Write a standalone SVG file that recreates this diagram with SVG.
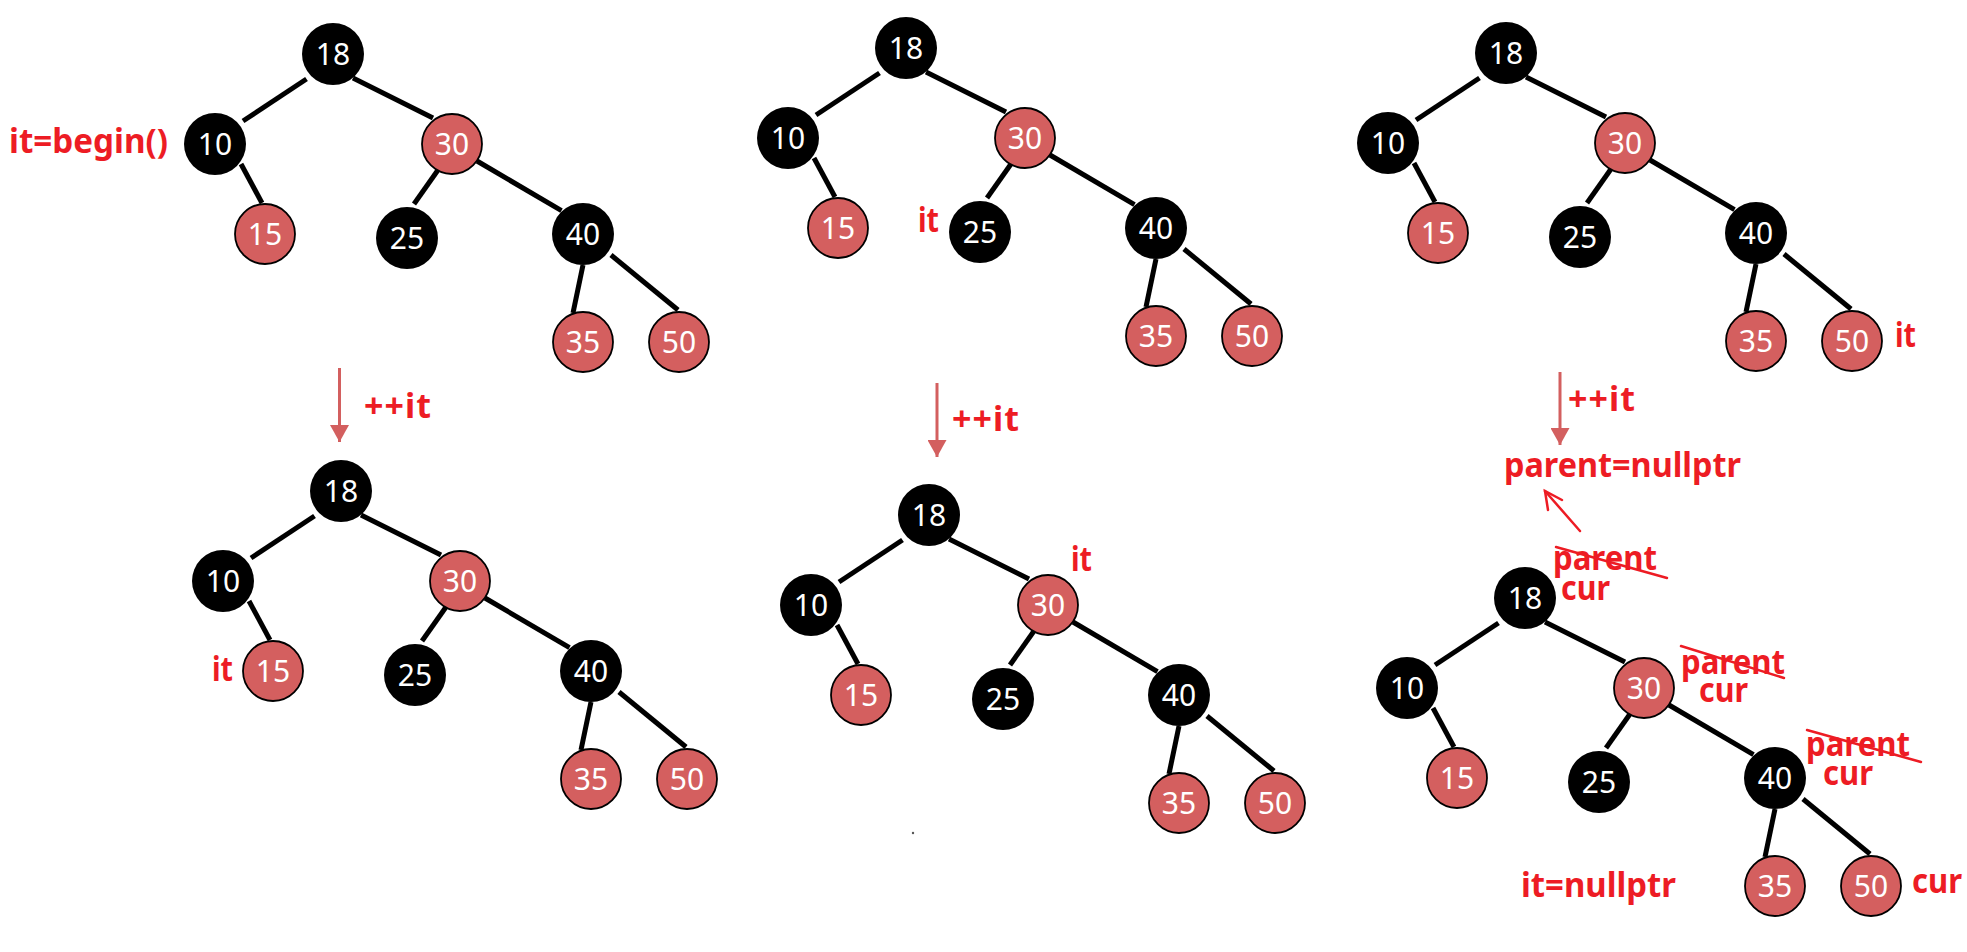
<svg xmlns="http://www.w3.org/2000/svg" xmlns:xlink="http://www.w3.org/1999/xlink" width="1967" height="952" viewBox="0 0 1967 952">
<style>
.b{fill:#000000}
.r{fill:#D45F5F;stroke:#000;stroke-width:1.8}
.v{fill:#fff;font-family:"Noto Sans","Liberation Sans",sans-serif;font-size:30px;text-anchor:middle}
.e{stroke:#000;stroke-width:5;fill:none}
.lab{fill:#ED1C24;font-family:"Noto Sans","Liberation Sans",sans-serif;font-size:34px;font-weight:bold}
.step{stroke:#D35F5F;stroke-width:3;fill:none}
.mark{stroke:#ED1C24;stroke-width:2.5;fill:none;stroke-linecap:round}
</style>
<defs>
<marker id="ah" markerWidth="19" markerHeight="19" refX="17" refY="9.5" orient="auto" markerUnits="userSpaceOnUse"><path d="M0,0 L17,9.5 L0,19 z" fill="#D35F5F"/></marker>
<g id="edgeSet">
<line class="e" x1="-26.5" y1="25" x2="-90" y2="67"/>
<line class="e" x1="20" y1="24" x2="100" y2="64"/>
<line class="e" x1="-92" y1="110" x2="-71" y2="149"/>
<line class="e" x1="105" y1="116" x2="81" y2="150"/>
<line class="e" x1="144" y1="107" x2="228.5" y2="156.7"/>
<line class="e" x1="250" y1="211" x2="240" y2="259"/>
<line class="e" x1="278" y1="201" x2="345" y2="256"/>
</g>
</defs>
<rect width="1967" height="952" fill="#fff"/>
<g id="connectors">
<use xlink:href="#edgeSet" transform="translate(333,54)"/>
<use xlink:href="#edgeSet" transform="translate(906,48)"/>
<use xlink:href="#edgeSet" transform="translate(1506,53)"/>
<use xlink:href="#edgeSet" transform="translate(341,491)"/>
<use xlink:href="#edgeSet" transform="translate(929,515)"/>
<use xlink:href="#edgeSet" transform="translate(1525,598)"/>
<line class="step" x1="339.5" y1="368" x2="339.5" y2="442" marker-end="url(#ah)"/>
<line class="step" x1="937" y1="383" x2="937" y2="457" marker-end="url(#ah)"/>
<line class="step" x1="1560" y1="372" x2="1560" y2="445" marker-end="url(#ah)"/>
<line class="mark" x1="1580" y1="531" x2="1545" y2="491"/>
<polyline class="mark" points="1562,500 1545,491 1548,510"/>
</g>
<g id="tree1" transform="translate(333,54)">
<g id="t1-18"><circle class="b" cx="0" cy="0" r="31"/><text class="v" x="0" y="11">18</text></g>
<g id="t1-10"><circle class="b" cx="-118" cy="90" r="31"/><text class="v" x="-118" y="101">10</text></g>
<g id="t1-30"><circle class="r" cx="119" cy="90" r="30"/><text class="v" x="119" y="101">30</text></g>
<g id="t1-15"><circle class="r" cx="-68" cy="180" r="30"/><text class="v" x="-68" y="191">15</text></g>
<g id="t1-25"><circle class="b" cx="74" cy="184" r="31"/><text class="v" x="74" y="195">25</text></g>
<g id="t1-40"><circle class="b" cx="250" cy="180" r="31"/><text class="v" x="250" y="191">40</text></g>
<g id="t1-35"><circle class="r" cx="250" cy="288" r="30"/><text class="v" x="250" y="299">35</text></g>
<g id="t1-50"><circle class="r" cx="346" cy="288" r="30"/><text class="v" x="346" y="299">50</text></g>
</g>
<g id="tree2" transform="translate(906,48)">
<g id="t2-18"><circle class="b" cx="0" cy="0" r="31"/><text class="v" x="0" y="11">18</text></g>
<g id="t2-10"><circle class="b" cx="-118" cy="90" r="31"/><text class="v" x="-118" y="101">10</text></g>
<g id="t2-30"><circle class="r" cx="119" cy="90" r="30"/><text class="v" x="119" y="101">30</text></g>
<g id="t2-15"><circle class="r" cx="-68" cy="180" r="30"/><text class="v" x="-68" y="191">15</text></g>
<g id="t2-25"><circle class="b" cx="74" cy="184" r="31"/><text class="v" x="74" y="195">25</text></g>
<g id="t2-40"><circle class="b" cx="250" cy="180" r="31"/><text class="v" x="250" y="191">40</text></g>
<g id="t2-35"><circle class="r" cx="250" cy="288" r="30"/><text class="v" x="250" y="299">35</text></g>
<g id="t2-50"><circle class="r" cx="346" cy="288" r="30"/><text class="v" x="346" y="299">50</text></g>
</g>
<g id="tree3" transform="translate(1506,53)">
<g id="t3-18"><circle class="b" cx="0" cy="0" r="31"/><text class="v" x="0" y="11">18</text></g>
<g id="t3-10"><circle class="b" cx="-118" cy="90" r="31"/><text class="v" x="-118" y="101">10</text></g>
<g id="t3-30"><circle class="r" cx="119" cy="90" r="30"/><text class="v" x="119" y="101">30</text></g>
<g id="t3-15"><circle class="r" cx="-68" cy="180" r="30"/><text class="v" x="-68" y="191">15</text></g>
<g id="t3-25"><circle class="b" cx="74" cy="184" r="31"/><text class="v" x="74" y="195">25</text></g>
<g id="t3-40"><circle class="b" cx="250" cy="180" r="31"/><text class="v" x="250" y="191">40</text></g>
<g id="t3-35"><circle class="r" cx="250" cy="288" r="30"/><text class="v" x="250" y="299">35</text></g>
<g id="t3-50"><circle class="r" cx="346" cy="288" r="30"/><text class="v" x="346" y="299">50</text></g>
</g>
<g id="tree4" transform="translate(341,491)">
<g id="t4-18"><circle class="b" cx="0" cy="0" r="31"/><text class="v" x="0" y="11">18</text></g>
<g id="t4-10"><circle class="b" cx="-118" cy="90" r="31"/><text class="v" x="-118" y="101">10</text></g>
<g id="t4-30"><circle class="r" cx="119" cy="90" r="30"/><text class="v" x="119" y="101">30</text></g>
<g id="t4-15"><circle class="r" cx="-68" cy="180" r="30"/><text class="v" x="-68" y="191">15</text></g>
<g id="t4-25"><circle class="b" cx="74" cy="184" r="31"/><text class="v" x="74" y="195">25</text></g>
<g id="t4-40"><circle class="b" cx="250" cy="180" r="31"/><text class="v" x="250" y="191">40</text></g>
<g id="t4-35"><circle class="r" cx="250" cy="288" r="30"/><text class="v" x="250" y="299">35</text></g>
<g id="t4-50"><circle class="r" cx="346" cy="288" r="30"/><text class="v" x="346" y="299">50</text></g>
</g>
<g id="tree5" transform="translate(929,515)">
<g id="t5-18"><circle class="b" cx="0" cy="0" r="31"/><text class="v" x="0" y="11">18</text></g>
<g id="t5-10"><circle class="b" cx="-118" cy="90" r="31"/><text class="v" x="-118" y="101">10</text></g>
<g id="t5-30"><circle class="r" cx="119" cy="90" r="30"/><text class="v" x="119" y="101">30</text></g>
<g id="t5-15"><circle class="r" cx="-68" cy="180" r="30"/><text class="v" x="-68" y="191">15</text></g>
<g id="t5-25"><circle class="b" cx="74" cy="184" r="31"/><text class="v" x="74" y="195">25</text></g>
<g id="t5-40"><circle class="b" cx="250" cy="180" r="31"/><text class="v" x="250" y="191">40</text></g>
<g id="t5-35"><circle class="r" cx="250" cy="288" r="30"/><text class="v" x="250" y="299">35</text></g>
<g id="t5-50"><circle class="r" cx="346" cy="288" r="30"/><text class="v" x="346" y="299">50</text></g>
</g>
<g id="tree6" transform="translate(1525,598)">
<g id="t6-18"><circle class="b" cx="0" cy="0" r="31"/><text class="v" x="0" y="11">18</text></g>
<g id="t6-10"><circle class="b" cx="-118" cy="90" r="31"/><text class="v" x="-118" y="101">10</text></g>
<g id="t6-30"><circle class="r" cx="119" cy="90" r="30"/><text class="v" x="119" y="101">30</text></g>
<g id="t6-15"><circle class="r" cx="-68" cy="180" r="30"/><text class="v" x="-68" y="191">15</text></g>
<g id="t6-25"><circle class="b" cx="74" cy="184" r="31"/><text class="v" x="74" y="195">25</text></g>
<g id="t6-40"><circle class="b" cx="250" cy="180" r="31"/><text class="v" x="250" y="191">40</text></g>
<g id="t6-35"><circle class="r" cx="250" cy="288" r="30"/><text class="v" x="250" y="299">35</text></g>
<g id="t6-50"><circle class="r" cx="346" cy="288" r="30"/><text class="v" x="346" y="299">50</text></g>
</g>
<g id="labels">
<text class="lab" x="9" y="153" textLength="159" lengthAdjust="spacingAndGlyphs">it=begin()</text>
<text class="lab" x="918" y="232" textLength="21" lengthAdjust="spacingAndGlyphs">it</text>
<text class="lab" x="1895" y="347" textLength="21" lengthAdjust="spacingAndGlyphs">it</text>
<text class="lab" x="364" y="418" textLength="67" lengthAdjust="spacing">++it</text>
<text class="lab" x="212" y="681" textLength="21" lengthAdjust="spacingAndGlyphs">it</text>
<text class="lab" x="952" y="431" textLength="67" lengthAdjust="spacing">++it</text>
<text class="lab" x="1071" y="571" textLength="21" lengthAdjust="spacingAndGlyphs">it</text>
<text class="lab" x="1568" y="411" textLength="67" lengthAdjust="spacing">++it</text>
<text class="lab" x="1504" y="477" textLength="237" lengthAdjust="spacingAndGlyphs">parent=nullptr</text>
<text class="lab" x="1553" y="570" textLength="104" lengthAdjust="spacingAndGlyphs">parent</text>
<line class="mark" x1="1556" y1="547" x2="1667" y2="578" stroke-width="2"/>
<text class="lab" x="1561" y="600" textLength="49" lengthAdjust="spacingAndGlyphs">cur</text>
<text class="lab" x="1681" y="674" textLength="104" lengthAdjust="spacingAndGlyphs">parent</text>
<line class="mark" x1="1681" y1="646" x2="1784" y2="678" stroke-width="2"/>
<text class="lab" x="1699" y="702" textLength="49" lengthAdjust="spacingAndGlyphs">cur</text>
<text class="lab" x="1806" y="756" textLength="104" lengthAdjust="spacingAndGlyphs">parent</text>
<line class="mark" x1="1807" y1="730" x2="1921" y2="762" stroke-width="2"/>
<text class="lab" x="1823" y="785" textLength="50" lengthAdjust="spacingAndGlyphs">cur</text>
<text class="lab" x="1521" y="897" textLength="155" lengthAdjust="spacingAndGlyphs">it=nullptr</text>
<text class="lab" x="1912" y="893" textLength="50" lengthAdjust="spacingAndGlyphs">cur</text>
</g>
<circle cx="913" cy="833" r="1.2" fill="#555"/>
</svg>
